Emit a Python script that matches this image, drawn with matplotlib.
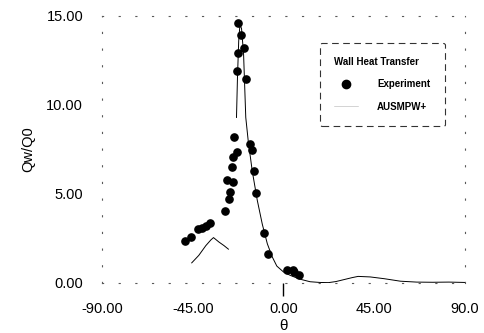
import numpy as np
import matplotlib.pyplot as plt

plt.rcParams['font.family'] = ['Liberation Sans', 'DejaVu Sans']

# Experiment (circles)
exp_theta = [-48.8, -45.8, -42.6, -40.2, -38.3, -36.4, -28.9, -26.8, -26.4, -28.1,
             -25.1, -25.3, -24.8, -22.8, -24.5, -22.8, -22.5, -22.5, -21.2, -19.5,
             -18.8, -16.5, -15.4, -14.5, -13.6, -9.6, -7.8, 1.7, 4.5, 5.3, 7.8]
exp_q = [2.36, 2.59, 3.06, 3.09, 3.19, 3.38, 4.05, 4.74, 5.12, 5.78,
         5.68, 6.49, 7.09, 7.37, 8.18, 11.93, 12.94, 14.63, 13.93, 13.22,
         11.44, 7.80, 7.46, 6.30, 5.06, 2.78, 1.65, 0.75, 0.75, 0.62, 0.47]

# AUSMPW+ computation (line), gap where it is hidden by markers
cfd_theta = [-45.5, -42.0, -38.5, -36.0, -34.7, -32.0, -29.5, -27.3, np.nan,
             -23.3, -22.8, -22.2, -21.6, -20.8, -19.8, -18.7, -17.5, -15.5, -13.0,
             -10.5, -8.0, -5.5, -3.3, 0.0, 3.3, 8.0, 13.2, 18.0, 22.3, 26.0, 30.0,
             34.0, 37.0, 43.0, 50.0, 58.0, 66.0, 74.0, 82.0, 90.0]
cfd_q = [1.13, 1.55, 2.10, 2.42, 2.55, 2.30, 2.10, 1.90, np.nan,
         9.3, 11.6, 13.6, 14.5, 14.3, 12.9, 9.3, 8.0, 6.3, 4.65,
         3.3, 2.2, 1.45, 0.95, 0.62, 0.43, 0.22, 0.07, 0.03, 0.02, 0.08, 0.19,
         0.30, 0.37, 0.34, 0.24, 0.10, 0.05, 0.04, 0.05, 0.03]

x_ticks = [-90, -45, 0, 45, 90]
x_labels = ['-90.00', '-45.00', '0.00', '45.00', '90.0']
y_ticks = [0, 5, 10, 15]
y_labels = ['0.00', '5.00', '10.00', '15.00']

fig = plt.figure(figsize=(4.84, 3.33), dpi=100)
ax = fig.add_axes([0.2107, 0.1502, 0.75, 0.8018])

ax.plot(cfd_theta, cfd_q, color='black', linewidth=0.7, label='AUSMPW+')
ax.plot(exp_theta, exp_q, 'o', color='black', markersize=5.2, label='Experiment')

ax.set_xlim(-90, 90)
ax.set_ylim(0, 15)
ax.set_xticks(x_ticks)
ax.set_xticklabels(x_labels)
ax.set_yticks(y_ticks)
ax.set_yticklabels(y_labels)
ax.tick_params(axis='both', length=0, labelsize=10.5)
ax.tick_params(axis='x', pad=13.5)
ax.tick_params(axis='y', pad=13.5)
# only the tick at 0 is drawn
zero_tick = ax.xaxis.get_major_ticks()[2]
zero_tick.tick1line.set_markersize(9)
zero_tick.tick1line.set_markeredgewidth(1)

for s in ax.spines.values():
    s.set_linestyle((0, (1, 14)))
    s.set_linewidth(0.8)
    s.set_color('0.35')

ax.set_xlabel('θ', fontsize=11, labelpad=2)
ax.set_ylabel('Qw/Q0', fontsize=10.5, labelpad=8)

h, l = ax.get_legend_handles_labels()
leg = ax.legend(h[::-1], l[::-1], title='Wall Heat Transfer', loc='upper left',
                bbox_to_anchor=(0.60, 0.90), fontsize=7, title_fontsize=7,
                frameon=True, fancybox=True, edgecolor='black',
                handlelength=2.4, handletextpad=2.0, borderpad=1.5,
                labelspacing=1.25, alignment='left', borderaxespad=0,
                markerscale=1.15)
leg.get_title().set_fontweight('bold')
for t in leg.get_texts():
    t.set_fontweight('bold')
leg.get_frame().set_linestyle((0, (6, 4)))
leg.get_frame().set_linewidth(0.8)
leg.legend_handles[1].set_linewidth(0.4)
leg.legend_handles[1].set_alpha(0.3)

fig.savefig('out.png', dpi=100)
